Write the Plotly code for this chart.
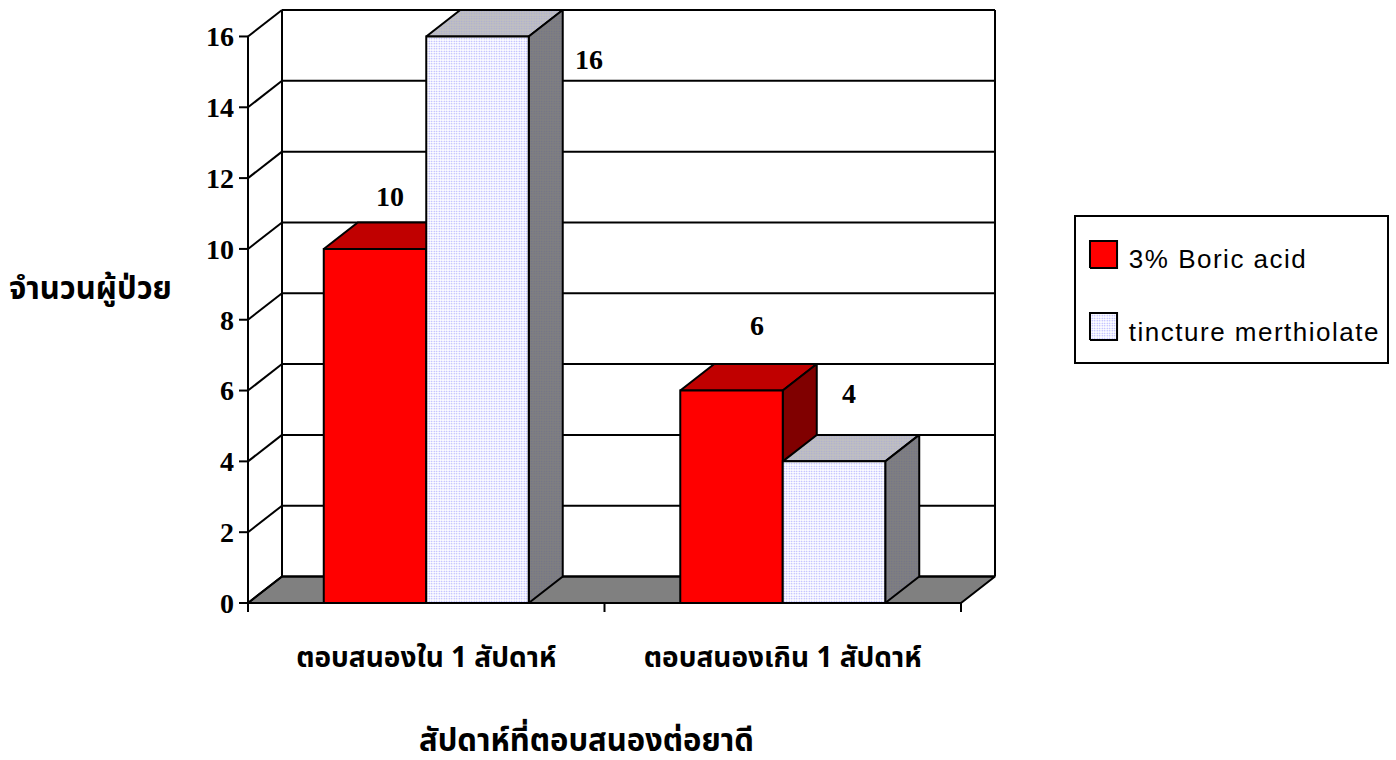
import plotly.graph_objects as go

# Chart data
categories = ["ตอบสนองใน 1 สัปดาห์", "ตอบสนองเกิน 1 สัปดาห์"]
series_names = ["3% Boric acid", "tincture merthiolate"]
boric_acid = [10, 6]
merthiolate = [16, 4]
y_ticks = [0, 2, 4, 6, 8, 10, 12, 14, 16]
x_title = "สัปดาห์ที่ตอบสนองต่อยาดี"
y_title = "จำนวนผู้ป่วย"

W, H = 1396, 760
THAI = "Noto Sans Thai, Noto Sans, DejaVu Sans, sans-serif"
SERIF = "Liberation Serif"
SANS = "Liberation Sans"

# Axis scale in pixels per unit, and the oblique depth of walls and bars
PX_X = 356.5
PX_Y = 35.45
DX = 34 / PX_X
DY = 26.5 / PX_Y
X0, X1 = -0.5, 1.5
Y_MAX = 16
GROUP = 0.575
BAR = GROUP / 2
LW = 2
PAD = 10  # spare pixels round the plot: room for edge lines and tick marks
TICK = 9


def dots(bg, fg="#a0a0ff", solidity=0.25):
    return dict(shape=".", size=2.5, solidity=solidity, fgcolor=fg, bgcolor=bg, fillmode="replace")


def poly(xs, ys, fill=None, pattern=None, line_w=LW, xaxis="x", yaxis="y"):
    kw = dict(x=xs + xs[:1], y=ys + ys[:1], mode="lines", fill="toself", xaxis=xaxis, yaxis=yaxis,
              line=dict(color="black", width=line_w), hoverinfo="skip", showlegend=False)
    if pattern:
        kw["fillpattern"] = pattern
        kw["fillcolor"] = pattern["bgcolor"]
    else:
        kw["fillcolor"] = fill
    return go.Scatter(**kw)


def lines(segments, width=LW, color="black"):
    xs, ys = [], []
    for (a, b), (c, d) in segments:
        xs += [a, c, None]
        ys += [b, d, None]
    return go.Scatter(x=xs, y=ys, mode="lines", line=dict(color=color, width=width),
                      hoverinfo="skip", showlegend=False)


fig = go.Figure()

# Floor
fig.add_trace(poly([X0, X1, X1 + DX, X0 + DX], [0, 0, DY, DY], fill="#808080"))

# Back wall gridlines, side wall diagonals, frame and tick marks
segs = [((X0 + DX, v + DY), (X1 + DX, v + DY)) for v in y_ticks]
segs += [((X0, v), (X0 + DX, v + DY)) for v in y_ticks]
segs += [((X0 + DX, DY), (X0 + DX, Y_MAX + DY)), ((X1 + DX, DY), (X1 + DX, Y_MAX + DY)),
         ((X0, 0), (X0, Y_MAX)), ((X0, 0), (X1, 0))]
segs += [((X0 - TICK / PX_X, v), (X0, v)) for v in y_ticks]
segs += [((v, -TICK / PX_Y), (v, 0)) for v in (X0, 0.5, X1)]
fig.add_trace(lines(segs))


def depth_faces(left, value, top, side):
    right = left + BAR
    fig.add_trace(poly([left, right, right + DX, left + DX],
                       [value, value, value + DY, value + DY], **top))
    fig.add_trace(poly([right, right + DX, right + DX, right],
                       [0, DY, value + DY, value], **side))


# Top and side faces of each bar, back to front
red_top = dict(fill="#c00000")
red_side = dict(fill="#800000")
pale_top = dict(pattern=dots("#c0c0c0", "#a8a8d8"))
pale_side = dict(pattern=dots("#808080", "#70708c"))
for i in range(len(categories)):
    depth_faces(i - BAR, boric_acid[i], red_top, red_side)
    depth_faces(i, merthiolate[i], pale_top, pale_side)

# Front faces sit on an overlaid pair of axes so they cover the depth faces
fig.add_trace(go.Bar(x=[0, 1], y=boric_acid, name=series_names[0], xaxis="x2", yaxis="y2",
                     marker=dict(color="#ff0000", line=dict(color="black", width=LW)),
                     hoverinfo="skip", showlegend=False))
fig.add_trace(go.Bar(x=[0, 1], y=merthiolate, name=series_names[1], xaxis="x2", yaxis="y2",
                     marker=dict(color="white", line=dict(color="black", width=LW),
                                 pattern=dots("white")),
                     hoverinfo="skip", showlegend=False))

# Legend panel on its own axes
fig.add_trace(poly([0.045, 0.132, 0.132, 0.045], [0.648, 0.648, 0.834, 0.834], fill="#ff0000",
                   xaxis="x3", yaxis="y3"))
fig.add_trace(poly([0.045, 0.132, 0.132, 0.045], [0.152, 0.152, 0.338, 0.338], pattern=dots("white"),
                   xaxis="x3", yaxis="y3"))
fig.add_trace(go.Scatter(x=[0.170, 0.170], y=[0.69, 0.193], text=series_names, mode="text",
                         textposition="middle right", xaxis="x3", yaxis="y3",
                         textfont=dict(family=SANS, size=26, color="black"),
                         hoverinfo="skip", showlegend=False, cliponaxis=False))

x_dom = [(248 - PAD) / W, (995 + PAD) / W]
y_dom = [(H - 603 - PAD) / H, (H - 10 + PAD) / H]
x_range = [X0 - PAD / PX_X, X1 + DX + PAD / PX_X]
y_range = [-PAD / PX_Y, Y_MAX + DY + PAD / PX_Y]

fig.update_layout(
    width=W, height=H, margin=dict(l=0, r=0, t=0, b=0, autoexpand=False),
    paper_bgcolor="white", plot_bgcolor="white", showlegend=False,
    barmode="group", bargap=1 - GROUP, bargroupgap=0,
    xaxis=dict(domain=x_dom, range=x_range, tickmode="array", tickvals=[0, 1], ticktext=categories,
               ticks="", ticklabelstandoff=25, showgrid=False, zeroline=False, showline=False,
               tickfont=dict(family=THAI, size=28, color="black", weight="bold")),
    yaxis=dict(domain=y_dom, range=y_range, tickmode="array", tickvals=y_ticks, ticks="",
               ticklabelstandoff=3, showgrid=False, zeroline=False, showline=False,
               tickfont=dict(family=SERIF, size=28, color="black", weight="bold")),
    xaxis2=dict(overlaying="x", range=x_range, visible=False),
    yaxis2=dict(overlaying="y", range=y_range, visible=False),
    xaxis3=dict(domain=[1076 / W, 1387 / W], range=[0, 1], anchor="y3", showticklabels=False,
                ticks="", showgrid=False, zeroline=False, showline=True, mirror=True,
                linecolor="black", linewidth=LW),
    yaxis3=dict(domain=[(H - 362) / H, (H - 217) / H], range=[0, 1], anchor="x3", showticklabels=False,
                ticks="", showgrid=False, zeroline=False, showline=True, mirror=True,
                linecolor="black", linewidth=LW),
)

# Value labels, placed by hand beside their bars
label_font = dict(family=SERIF, size=28, color="black", weight="bold")
label_shift = [[(14.5, 52), (111, -23)], [(25, 65), (14.5, 68)]]
for i in range(len(categories)):
    for j, (series, center) in enumerate([(boric_acid, i - BAR / 2), (merthiolate, i + BAR / 2)]):
        sx, sy = label_shift[i][j]
        fig.add_annotation(x=center, y=series[i], xref="x", yref="y", text=str(series[i]), showarrow=False,
                           xshift=sx, yshift=sy, font=label_font)

# Axis titles
fig.add_annotation(x=586 / W, y=(H - 741) / H, xref="paper", yref="paper", text=x_title, showarrow=False,
                   xanchor="center", yanchor="middle",
                   font=dict(family=THAI, size=31, color="black", weight="bold"))
fig.add_annotation(x=90 / W, y=(H - 289) / H, xref="paper", yref="paper", text=y_title, showarrow=False,
                   xanchor="center", yanchor="middle",
                   font=dict(family=THAI, size=31, color="black", weight="bold"))

# Legend text runs a little wider than the font's natural spacing
fig.write_html("out.html", post_script=(
    "document.querySelectorAll('.textpoint text').forEach(function (t) {"
    " t.style.letterSpacing = '1.5px'; });"))
